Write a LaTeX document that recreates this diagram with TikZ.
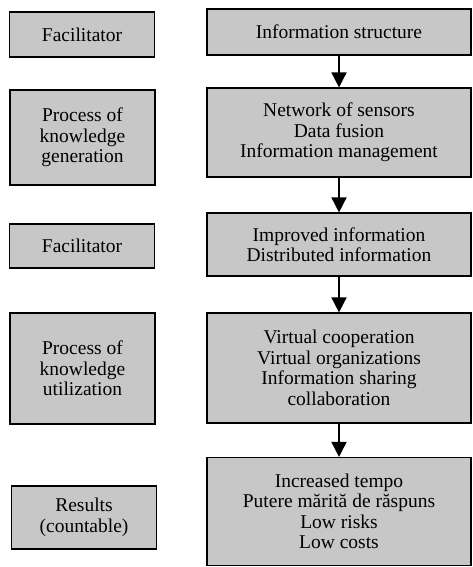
\documentclass[tikz,border=0pt]{standalone}
\usepackage{fontspec}
\setmainfont{Liberation Serif}
\usetikzlibrary{arrows.meta,positioning}
\tikzset{
  >={Triangle[length=15pt,width=15pt]},
  box/.style ={draw, line width=1.1pt, fill=black!22, inner sep=0pt, align=center,
               font=\fontsize{19.5}{20.5}\selectfont},
  lbox/.style={box, minimum width=145pt},
  rbox/.style={box, minimum width=264pt},
  flow/.style={->, line width=1.5pt}
}
\begin{document}
\begin{tikzpicture}[x=1pt, y=1pt]
\useasboundingbox (0,0) rectangle (473,-567);
% right column
\node[rbox, minimum height=46pt]  (info) at (339,-32)    {Information structure};
\node[rbox, minimum height=89pt]  (net)  at (339,-132.5) {Network of sensors\\Data fusion\\Information management};
\node[rbox, minimum height=63pt]  (imp)  at (339,-244.5) {Improved information\\Distributed information};
\node[rbox, minimum height=110pt] (virt) at (339,-368)   {Virtual cooperation\\Virtual organizations\\Information sharing\\collaboration};
\node[rbox, minimum height=108pt] (incr) at (339,-511.5) {Increased tempo\\Putere mărită de răspuns\\Low risks\\Low costs};
% left column
\node[lbox, minimum height=45pt]  (fac1) at (82,-34.5)   {Facilitator};
\node[lbox, minimum height=95pt]  (gen)  at (82.5,-137.5) {Process of\\knowledge\\generation};
\node[lbox, minimum height=44pt]  (fac2) at (82,-246)    {Facilitator};
\node[lbox, minimum height=111pt] (util) at (82.5,-368.5) {Process of\\knowledge\\utilization};
\node[lbox, minimum height=63pt]  (res)  at (84,-517.5)  {Results\\(countable)};
% arrows
\draw[flow] (info) -- (net);
\draw[flow] (net)  -- (imp);
\draw[flow] (imp)  -- (virt);
\draw[flow] (virt) -- (incr);
\end{tikzpicture}
\end{document}
